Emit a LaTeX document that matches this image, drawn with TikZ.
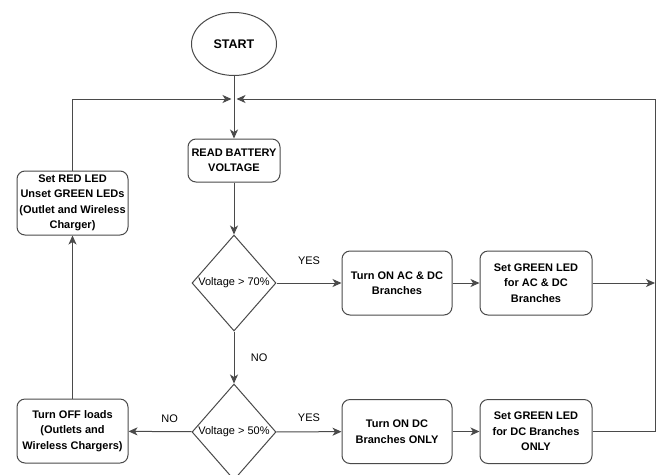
\documentclass[tikz,border=0pt]{standalone}
\usepackage{fontspec}
\setmainfont{Liberation Sans}
\usepackage{tikz}
\usetikzlibrary{shapes.geometric,calc,arrows.meta}
\definecolor{linegray}{HTML}{4A4A4A}

\begin{document}
\begin{tikzpicture}[
			x=1pt, y=-1pt,
			every node/.style={font=\fontsize{11}{15}\selectfont},
			startstop/.style={ellipse, draw=linegray, line width=1pt, minimum width=85pt, minimum height=63pt, font=\fontsize{12.5}{14}\selectfont\bfseries},
			process/.style={rectangle, draw=linegray, line width=1pt, rounded corners=8pt, minimum width=111pt, minimum height=64pt, inner sep=1pt, align=center, font=\fontsize{11}{15.5}\selectfont\bfseries},
			decision/.style={diamond, draw=linegray, line width=1pt, minimum width=84pt, minimum height=96pt, inner sep=0pt},
			arrow/.style={-{Stealth[length=9pt, width=8pt, inset=2.5pt]}, draw=linegray, line width=1pt}
		]
		\useasboundingbox (0,0) rectangle (660,474);
		\clip (0,0) rectangle (660,474);

		\node (start) [startstop] at (234,44) {START};
		\node (read) [process, minimum width=92pt, minimum height=43pt] at (234,160.5) {READ BATTERY\\VOLTAGE};
		\node (hi) [decision, label=center:{Voltage > 70\%}] at (234,283) {};
		\node (mid) [decision, label=center:{Voltage > 50\%}] at (234,432) {};
		\node (acdc) [process, minimum width=110pt] at (397,283) {Turn ON AC \& DC\\Branches};
		\node (acled) [process, minimum width=112pt] at (536,283) {Set GREEN LED\\for AC \& DC\\Branches};
		\node (dc) [process, minimum width=110pt] at (397,431.5) {Turn ON DC\\Branches ONLY};
		\node (dcled) [process, minimum width=112pt] at (536,431.5) {Set GREEN LED\\for DC Branches\\ONLY};
		\node (off) [process] at (72.5,431) {Turn OFF loads\\(Outlets and\\Wireless Chargers)};
		\node (red) [process] at (72.5,203) {Set RED LED\\Unset GREEN LEDs\\(Outlet and Wireless\\Charger)};

		\coordinate (rail) at (655,99);
		\coordinate (joinL) at (231.5,99);
		\coordinate (joinR) at (236.5,99);

		% arrows - main path
		\draw[arrow] (start) -- (read);
		\draw[arrow] (read) -- (hi);
		\draw[arrow] (hi) -- node [right=13pt] {NO} (mid);
		\draw[arrow] (hi) -- node [above=15pt] {YES} (acdc);
		\draw[arrow] (acdc) -- (acled);
		\draw[arrow] (mid) -- node [above=6pt] {YES} (dc);
		\draw[arrow] (dc) -- (dcled);
		\draw[arrow] (mid) -- node [pos=0.35, above=5pt] {NO} (off);

		% arrows - loops back
		\draw[arrow] (acled) -- (acled -| rail);
		\draw[arrow] (dcled) -| (rail) -- (joinR);
		\draw[arrow] (off) -- (red);
		\draw[arrow] (red) |- (joinL);
	\end{tikzpicture}
\end{document}
